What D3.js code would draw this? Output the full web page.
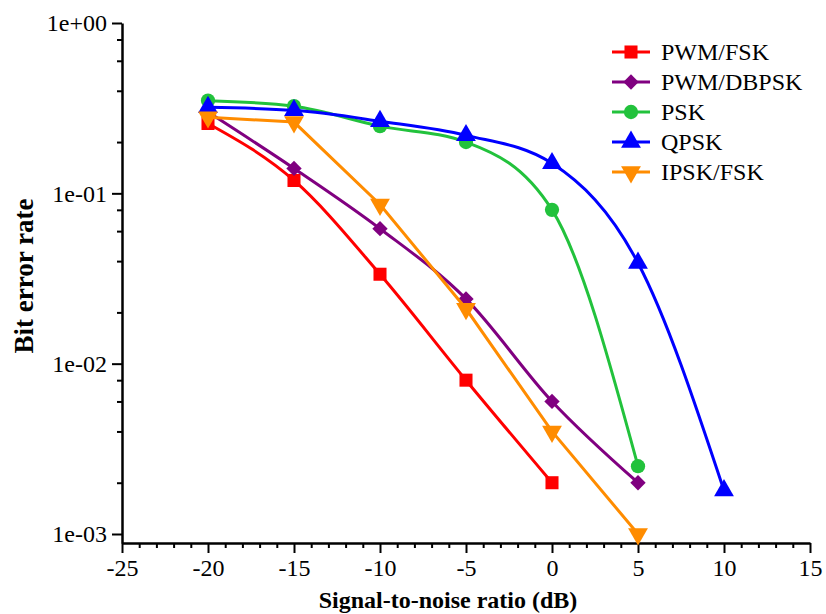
<!DOCTYPE html>
<html><head><meta charset="utf-8">
<script src="https://cdn.jsdelivr.net/npm/d3@7"></script>
<style>body{margin:0;background:#fff}svg{display:block}</style>
</head><body>
<svg id="c" width="826" height="614"></svg>
<script>
const snr = [-20, -15, -10, -5, 0, 5, 10];
const seriesNames = ["PWM/FSK", "PWM/DBPSK", "PSK", "QPSK", "IPSK/FSK"];
const pwmFsk   = [0.257, 0.119, 0.0335, 0.0080, 0.0020];
const pwmDbpsk = [0.30, 0.140, 0.062, 0.024, 0.0060, 0.0020];
const psk      = [0.35, 0.325, 0.248, 0.200, 0.080, 0.0025];
const qpsk     = [0.32, 0.307, 0.265, 0.219, 0.150, 0.039, 0.0018];
const ipskFsk  = [0.28, 0.262, 0.086, 0.021, 0.0040, 0.0010];
const xTicks = [-25, -20, -15, -10, -5, 0, 5, 10, 15];
const yTicks = [1, 0.1, 0.01, 0.001];
const yTickLabels = ["1e+00", "1e-01", "1e-02", "1e-03"];
const colors = ["#ff0000", "#800080", "#22c23c", "#0000ff", "#ff8c00"];
const markers = ["square", "diamond", "circle", "triangle", "down"];
const smooth = [true, true, true, true, false];
const allVals = [pwmFsk, pwmDbpsk, psk, qpsk, ipskFsk];

const svg = d3.select("#c");
const serif = '"Liberation Serif"';
const x = d3.scaleLinear().domain([-25, 15]).range([122, 810]);
const y0 = d3.scaleLog().domain([1e-3, 1]).range([534, 23]);
const y = d3.scaleLog().domain([y0.invert(543), 1]).range([543, 23]);

const yMinor = [];
[1, 0.1, 0.01].forEach(d => [0.8, 0.6, 0.4, 0.2].forEach(m => yMinor.push(d * m)));
const xMinor = d3.range(-25, 16, 1).filter(v => v % 5 !== 0);

const gx = svg.append("g").attr("transform", "translate(0,543)");
gx.call(d3.axisBottom(x).tickValues(xMinor).tickSize(5).tickFormat("").tickSizeOuter(0));
gx.call(g => g.selectAll(".domain").remove());
const gx2 = svg.append("g").attr("transform", "translate(0,543)")
  .call(d3.axisBottom(x).tickValues(xTicks).tickSize(10).tickSizeOuter(0).tickPadding(6).tickFormat(d => d));

const gy = svg.append("g").attr("transform", "translate(122,0)");
gy.call(d3.axisLeft(y).tickValues(yMinor).tickSize(5).tickFormat("").tickSizeOuter(0));
gy.call(g => g.selectAll(".domain").remove());
const gy2 = svg.append("g").attr("transform", "translate(122,0)")
  .call(d3.axisLeft(y).tickValues(yTicks).tickSize(10).tickSizeOuter(0).tickPadding(5)
    .tickFormat((d, i) => yTickLabels[i]));
svg.selectAll("g").attr("font-family", null).attr("font-size", null);
svg.selectAll("g .domain").attr("stroke", "#000").attr("stroke-width", 2.5);
svg.selectAll("g .tick line").attr("stroke", "#000").attr("stroke-width", 2);
svg.selectAll("g .tick text").style("font-family", serif).style("font-size", "24px").attr("fill", "#000");

svg.append("text").attr("x", 448).attr("y", 608).attr("text-anchor", "middle")
  .style("font-family", serif).style("font-weight", "bold").style("font-size", "24px")
  .text("Signal-to-noise ratio (dB)");
svg.append("text").attr("transform", "translate(33,276) rotate(-90)").attr("text-anchor", "middle")
  .style("font-family", serif).style("font-weight", "bold").style("font-size", "27px")
  .text("Bit error rate");

function markerPath(type) {
  const s = {square: d3.symbolSquare, diamond: d3.symbolDiamond2, circle: d3.symbolCircle,
             triangle: d3.symbolTriangle, down: d3.symbolTriangle}[type];
  const size = {square: 170, diamond: 150, circle: 160, triangle: 170, down: 170}[type];
  return d3.symbol().type(s).size(size)();
}

allVals.forEach((vals, i) => {
  const pts = vals.map((v, j) => [snr[j], v]);
  const line = d3.line().x(d => x(d[0])).y(d => y(d[1]))
    .curve(smooth[i] ? d3.curveMonotoneX : d3.curveLinear);
  svg.append("path").datum(pts).attr("d", line).attr("fill", "none")
    .attr("stroke", colors[i]).attr("stroke-width", 3);
  svg.append("g").selectAll("path").data(pts).join("path")
    .attr("d", markerPath(markers[i]))
    .attr("transform", d => `translate(${x(d[0])},${y(d[1])})` + (markers[i] === "down" ? " rotate(180)" : ""))
    .attr("fill", colors[i]);
});

const lg = svg.append("g");
seriesNames.forEach((name, i) => {
  const yy = 52 + i * 30;
  lg.append("line").attr("x1", 612).attr("x2", 650).attr("y1", yy).attr("y2", yy)
    .attr("stroke", colors[i]).attr("stroke-width", 3);
  lg.append("path").attr("d", markerPath(markers[i]))
    .attr("transform", `translate(631,${yy})` + (markers[i] === "down" ? " rotate(180)" : ""))
    .attr("fill", colors[i]);
  lg.append("text").attr("x", 661).attr("y", yy + 8)
    .style("font-family", serif).style("font-size", "24px").attr("fill", "#000").text(name);
});
</script>
</body></html>
